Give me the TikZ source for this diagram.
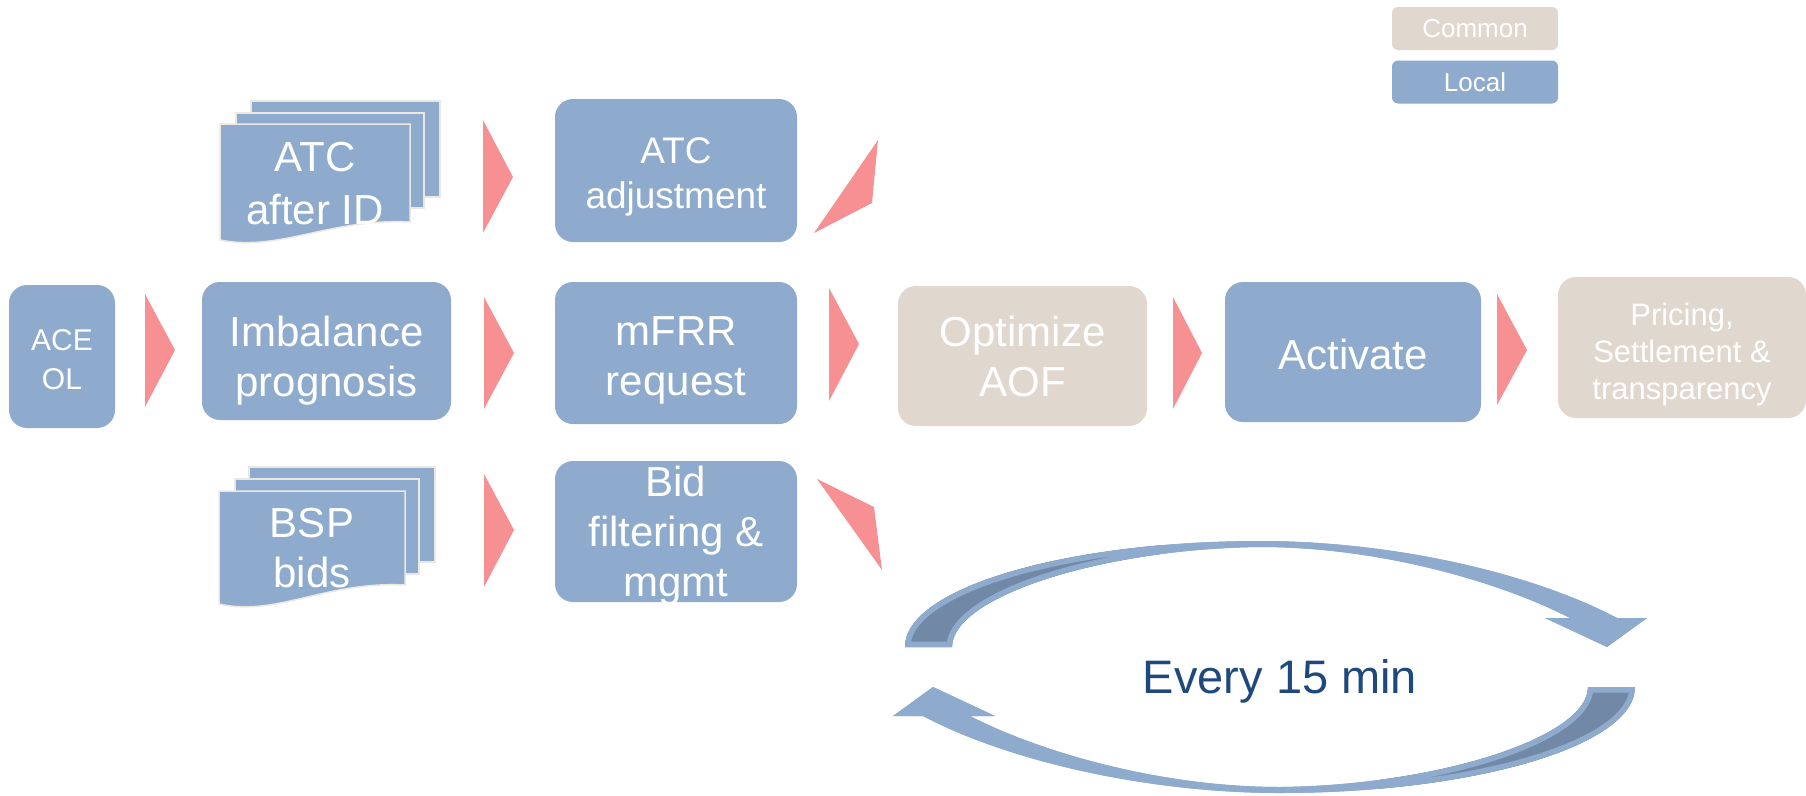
\documentclass[tikz,border=0pt]{standalone}
\usepackage{fontspec}
\setmainfont{Liberation Sans}
\definecolor{boxblue}{HTML}{8EABCD}
\definecolor{beige}{HTML}{E0D7CF}
\definecolor{chev}{HTML}{F69092}
\definecolor{darkarc}{HTML}{7189A6}
\definecolor{txtblue}{HTML}{1F497D}
\definecolor{sheetline}{HTML}{EDE7E1}
\tikzset{
 box/.style={rounded corners=18pt, fill=boxblue, inner sep=0pt},
 combox/.style={box, fill=beige},
 lbl/.style={text=white, align=center, inner sep=0pt, font=\fontsize{42}{50}\selectfont},
 chevron/.style={fill=chev},
 sheet/.style={fill=boxblue, draw=sheetline, line width=1.5pt},
 leg/.style={rounded corners=6pt, fill=boxblue, text=white, inner sep=0pt, font=\fontsize{26}{30}\selectfont, minimum width=166pt, minimum height=43pt},
}
\newcommand\cyclepath{(-365,-20) .. controls (-365,-80) and (-200,-126) .. (-10,-126) .. controls (120,-126) and (260,-95) .. (347,-49) -- (377,-49) -- (337,-20) -- (275,-49) -- (300,-49) .. controls (230,-85) and (110,-120) .. (-10,-120) .. controls (-170,-118) and (-318,-70) .. (-318,-20) -- cycle}
\newcommand\drawcycle{%
 \fill[boxblue] \cyclepath;
 \begin{scope}
  \clip \cyclepath;
  \begin{scope}
   \clip (-400,0) rectangle (-110,-200);
   \fill[darkarc] \cyclepath;
  \end{scope}
  \draw[boxblue, line width=11pt, line join=round] \cyclepath;
 \end{scope}}
\begin{document}
\begin{tikzpicture}[x=1pt,y=-1pt]
\useasboundingbox (0,0) rectangle (1806,795);

% legend
\node (common) [leg, fill=beige] at (1475,28.5) {Common};
\node (local) [leg] at (1475,82) {Local};

% main row boxes
\node (ace) [box, minimum width=106pt, minimum height=143pt] at (62,356.5) {};
\node (imb) [box, minimum width=249pt, minimum height=138pt] at (326.5,351) {};
\node (mfrr) [box, minimum width=242pt, minimum height=142pt] at (676,353) {};
\node (atcadj) [box, minimum width=242pt, minimum height=143pt] at (676,170.5) {};
\node (bid) [box, minimum width=242pt, minimum height=141pt] at (676,531.5) {};
\node (opt) [combox, minimum width=249pt, minimum height=140pt] at (1022.5,356) {};
\node (act) [box, minimum width=256pt, minimum height=140pt] at (1353,352) {};
\node (price) [combox, minimum width=248pt, minimum height=141pt] at (1682,347.5) {};

% labels
\node (acet) [lbl, font=\fontsize{30}{39}\selectfont, yshift=-3pt] at (ace.center) {ACE\\OL};
\node (imbt) [lbl, yshift=-10pt] at (imb.center) {Imbalance\\prognosis};
\node (mfrrt) [lbl, yshift=-7pt] at (mfrr.center) {mFRR\\request};
\node (atcadjt) [lbl, font=\fontsize{37}{45}\selectfont, yshift=-6pt] at (atcadj.center) {ATC\\adjustment};
\node (bidt) [lbl, yshift=-4pt] at (bid.center) {Bid\\filtering \&\\mgmt};
\node (optt) [lbl] at (opt.center) {Optimize\\AOF};
\node (actt) [lbl, yshift=-2pt] at (act.center) {Activate};
\node (pricet) [lbl, font=\fontsize{31}{37}\selectfont, yshift=-7pt] at (price.center) {Pricing,\\Settlement \&\\transparency};

% document stacks
\draw[sheet] (251,101) rectangle (440,197);
\draw[sheet] (236,113) rectangle (424,208);
\draw[sheet] (220,124) -- (410,124) -- (410,222) .. controls (330,218) and (280,252) .. (220,240) -- cycle;
\node (atcid) [lbl, font=\fontsize{42}{53}\selectfont] at (315,184) {ATC\\after ID};

\draw[sheet] (249,467) rectangle (435,562);
\draw[sheet] (235,479) rectangle (419,574);
\draw[sheet] (219,491) -- (405,491) -- (405,585) .. controls (325,581) and (277,617) .. (219,604) -- cycle;
\node (bsp) [lbl] at (312,548) {BSP\\bids};

% chevrons
\fill[chevron] (145,294) -- (175,350) -- (145,407) -- cycle;
\fill[chevron] (484,297) -- (514,353) -- (484,409) -- cycle;
\fill[chevron] (829,288) -- (859,344) -- (829,401) -- cycle;
\fill[chevron] (1173,297) -- (1202,353) -- (1173,409) -- cycle;
\fill[chevron] (1497,294) -- (1527,350) -- (1497,405) -- cycle;
\fill[chevron] (483,120) -- (513,177) -- (483,233) -- cycle;
\fill[chevron] (484,474) -- (514,530) -- (484,587) -- cycle;
\fill[chevron] (878,140) -- (872,203) -- (814,233) -- cycle;
\fill[chevron] (817,479) -- (874,507) -- (882,570) -- cycle;

% cycle arrows
\begin{scope}[shift={(1270,667)}]
 \drawcycle
\end{scope}
\begin{scope}[shift={(1270,667)}, rotate=180]
 \drawcycle
\end{scope}
\node (every) [anchor=base, text=txtblue, inner sep=0pt, font=\fontsize{47}{56}\selectfont] at (1280,693) {Every 15 min};
\end{tikzpicture}
\end{document}
